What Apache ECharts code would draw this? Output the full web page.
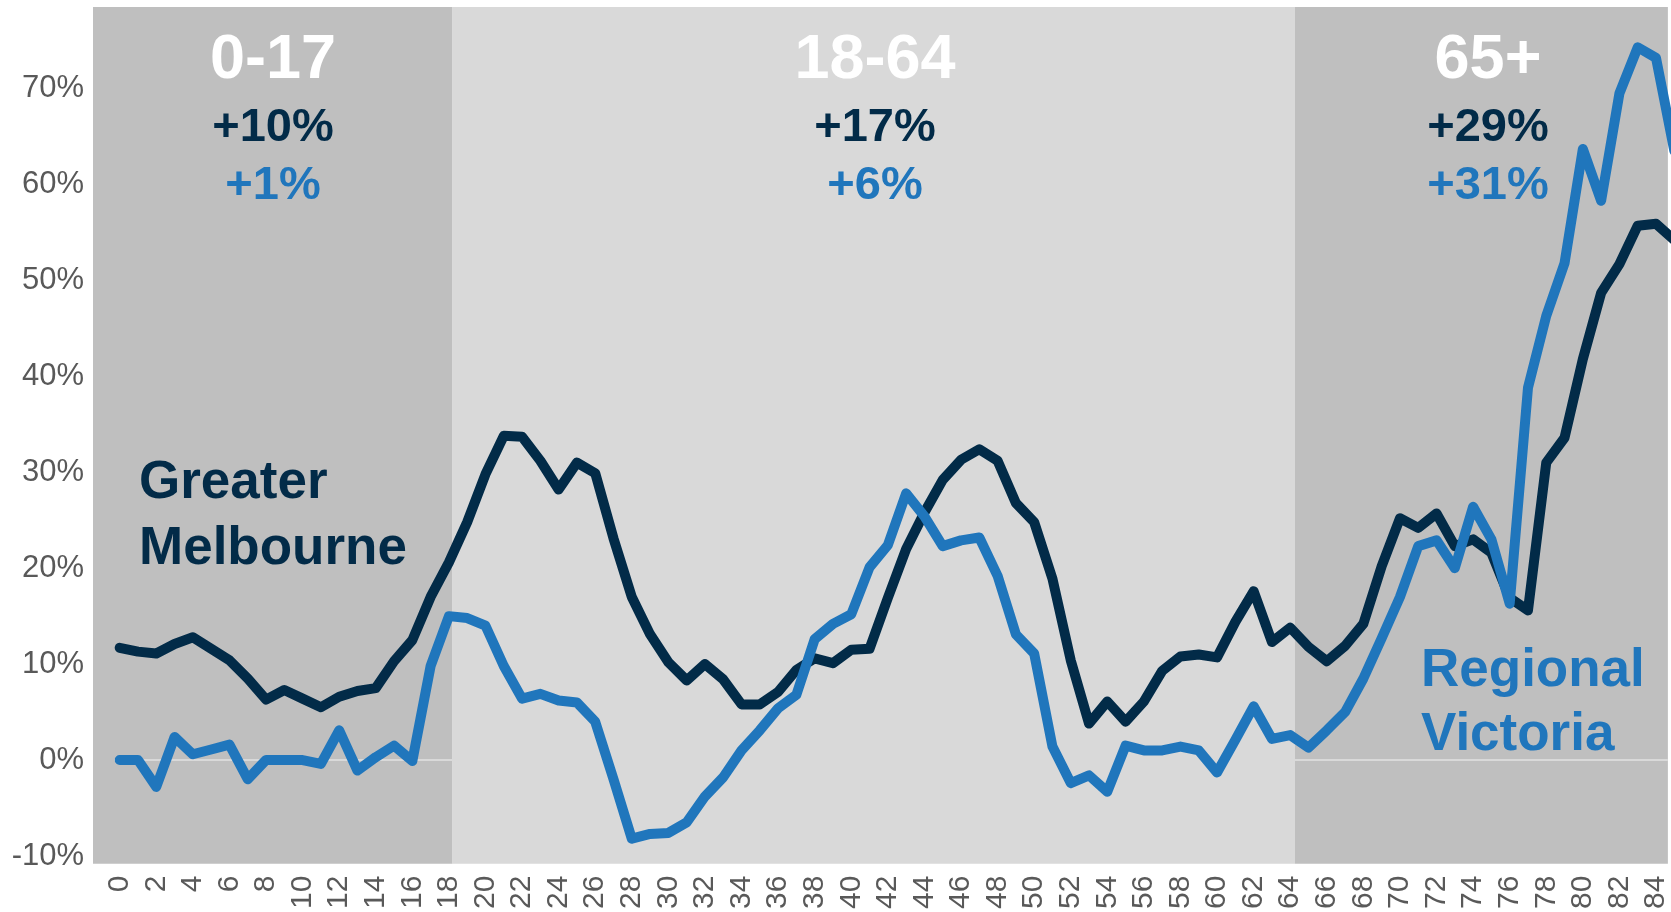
<!DOCTYPE html>
<html>
<head>
<meta charset="utf-8">
<script src="https://cdn.jsdelivr.net/npm/echarts@6/dist/echarts.min.js"></script>
<style>
html,body{margin:0;padding:0;background:#fff;}
#chart{width:1671px;height:912px;}
</style>
</head>
<body>
<div id="chart"></div>
<script>
// ---- data ----
const ages = [0,1,2,3,4,5,6,7,8,9,10,11,12,13,14,15,16,17,18,19,20,21,22,23,24,25,26,27,28,29,30,31,32,33,34,35,36,37,38,39,40,41,42,43,44,45,46,47,48,49,50,51,52,53,54,55,56,57,58,59,60,61,62,63,64,65,66,67,68,69,70,71,72,73,74,75,76,77,78,79,80,81,82,83,84,85];
const melbourne = [11.7,11.3,11.1,12.1,12.8,11.6,10.4,8.5,6.3,7.3,6.4,5.5,6.6,7.2,7.5,10.3,12.5,17.0,20.6,24.8,29.8,33.8,33.7,31.2,28.2,31.0,29.9,23.1,17.0,13.1,10.2,8.3,10.0,8.4,5.8,5.8,7.1,9.4,10.6,10.1,11.5,11.6,16.9,22.0,25.8,29.2,31.3,32.4,31.2,26.8,24.8,18.9,10.4,3.8,6.1,4.0,6.1,9.3,10.8,11.0,10.7,14.4,17.6,12.3,13.8,11.8,10.3,11.9,14.2,20.2,25.2,24.2,25.7,22.3,23.0,21.6,16.9,15.6,31.0,33.6,41.8,48.7,51.7,55.7,55.9,54.2];
const regional = [0,0,-2.8,2.4,0.6,1.1,1.6,-2.0,0,0,0,-0.4,3.1,-1.1,0.3,1.5,-0.1,9.8,15.0,14.8,14.0,9.8,6.4,6.9,6.2,6.0,4.0,-2.0,-8.2,-7.7,-7.6,-6.5,-3.8,-1.8,1.0,3.1,5.4,6.8,12.6,14.2,15.2,20.1,22.4,27.8,25.4,22.3,22.9,23.2,19.2,13.1,11.1,1.4,-2.4,-1.6,-3.3,1.5,1.0,1.0,1.4,1.0,-1.3,2.1,5.6,2.2,2.6,1.3,3.1,5.0,8.5,12.7,17.0,22.3,22.9,20.0,26.4,23.0,16.3,38.8,46.3,51.8,63.7,58.3,69.5,74.3,73.2,63.5];
const xTickLabels = [0,2,4,6,8,10,12,14,16,18,20,22,24,26,28,30,32,34,36,38,40,42,44,46,48,50,52,54,56,58,60,62,64,66,68,70,72,74,76,78,80,82,84];
const yTickValues = [-0.1,0,0.1,0.2,0.3,0.4,0.5,0.6,0.7];
const bandNames = ['0-17','18-64','65+'];
const bandEdges = [-1.46, 18.2, 64.25, 85.1];
const bandMelbourne = ['+10%','+17%','+29%'];
const bandRegional = ['+1%','+6%','+31%'];

// ---- styles ----
const NAVY = '#022b48';
const BLUE = '#2076bc';
const DARKBAND = '#bfbfbf';
const LIGHTBAND = '#d9d9d9';
const FONT = '"Liberation Sans", Arial, sans-serif';
const X_MIN = -1.46, X_MAX = 84.65;

const chart = echarts.init(document.getElementById('chart'), null, {renderer:'canvas'});

const bandData = bandNames.map((n,i)=>[bandEdges[i], bandEdges[i+1], i]);
const bandColors = [DARKBAND, LIGHTBAND, DARKBAND];

const graphics = [];
const bandCenters = [273, 875, 1488];
bandNames.forEach((n,i)=>{
  graphics.push({type:'text', x:bandCenters[i], y:61, z:100, style:{text:n, font:'bold 63px '+FONT, fill:'#ffffff', align:'center', verticalAlign:'middle'}});
  graphics.push({type:'text', x:bandCenters[i], y:128, z:100, style:{text:bandMelbourne[i], font:'bold 47px '+FONT, fill:NAVY, align:'center', verticalAlign:'middle'}});
  graphics.push({type:'text', x:bandCenters[i], y:186, z:100, style:{text:bandRegional[i], font:'bold 47px '+FONT, fill:BLUE, align:'center', verticalAlign:'middle'}});
});
graphics.push({type:'text', x:139, y:483, z:100, style:{text:'Greater', font:'bold 53px '+FONT, fill:NAVY, align:'left', verticalAlign:'middle'}});
graphics.push({type:'text', x:139, y:549, z:100, style:{text:'Melbourne', font:'bold 53px '+FONT, fill:NAVY, align:'left', verticalAlign:'middle'}});
graphics.push({type:'text', x:1421, y:671, z:100, style:{text:'Regional', font:'bold 53px '+FONT, fill:BLUE, align:'left', verticalAlign:'middle'}});
graphics.push({type:'text', x:1421, y:735, z:100, style:{text:'Victoria', font:'bold 53px '+FONT, fill:BLUE, align:'left', verticalAlign:'middle'}});

const option = {
  animation:false,
  backgroundColor:'#ffffff',
  grid:{left:93, right:0, top:7, bottom:47, containLabel:false},
  xAxis:{
    type:'value', min:X_MIN, max:X_MAX,
    axisLine:{show:false}, axisTick:{show:false}, splitLine:{show:false},
    axisLabel:{customValues:xTickLabels, rotate:90, margin:12, fontSize:30, color:'#595959', fontFamily:FONT, formatter:v=>String(v)}
  },
  yAxis:{
    type:'value', min:-0.108, max:0.785,
    axisLine:{show:false}, axisTick:{show:false}, splitLine:{show:false},
    axisLabel:{customValues:yTickValues, margin:9, fontSize:31, color:'#595959', fontFamily:FONT, formatter:v=>Math.round(v*100)+'%'}
  },
  graphic:graphics,
  series:[
    {
      type:'custom', z:0, silent:true,
      data:bandData,
      encode:{x:[0,1]},
      renderItem:function(params, api){
        const cs = params.coordSys;
        const x0 = api.coord([api.value(0), 0])[0];
        const x1 = api.coord([api.value(1), 0])[0];
        const r = echarts.graphic.clipRectByRect(
          {x:x0, y:cs.y, width:x1-x0, height:cs.height},
          {x:cs.x, y:cs.y, width:cs.width, height:cs.height});
        return r && {type:'rect', shape:r, style:{fill:bandColors[api.value(2)]}};
      }
    },
    {
      type:'custom', z:1, silent:true,
      data:[[-0.3, X_MAX, 0]],
      encode:{x:[0,1], y:2},
      renderItem:function(params, api){
        const p0 = api.coord([api.value(0), api.value(2)]);
        const p1 = api.coord([api.value(1), api.value(2)]);
        return {type:'line', shape:{x1:p0[0], y1:p0[1], x2:p1[0], y2:p1[1]}, style:{stroke:LIGHTBAND, lineWidth:2}};
      }
    },
    {
      name:'Greater Melbourne', type:'line', z:3, symbol:'none', clip:true,
      data:ages.map((a,i)=>[a, melbourne[i]/100]),
      lineStyle:{color:NAVY, width:10, join:'round', cap:'round'}
    },
    {
      name:'Regional Victoria', type:'line', z:4, symbol:'none', clip:true,
      data:ages.map((a,i)=>[a, regional[i]/100]),
      lineStyle:{color:BLUE, width:10, join:'round', cap:'round'}
    }
  ]
};
chart.setOption(option);
</script>
</body>
</html>
